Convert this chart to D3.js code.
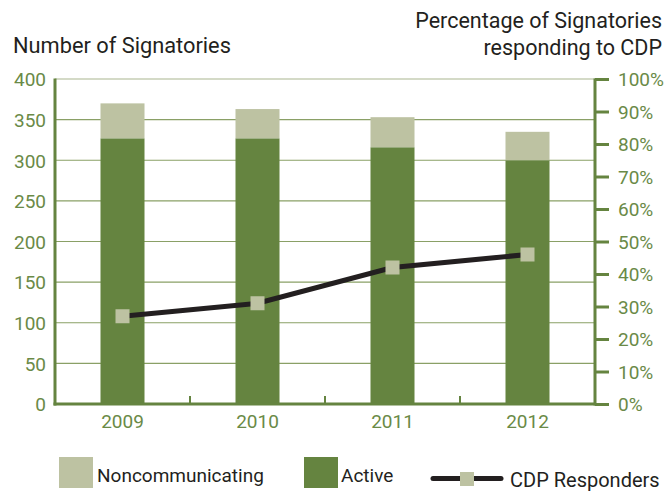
<!DOCTYPE html>
<html>
<head>
<meta charset="utf-8">
<script src="https://cdn.jsdelivr.net/npm/d3@7"></script>
<style>
  html, body { margin: 0; padding: 0; background: #fff; }
  svg { display: block; }
  text { font-family: Roboto, "Noto Sans", sans-serif; }
</style>
</head>
<body>
<svg id="chart" width="668" height="491"></svg>
<script>
// Signatories per year, split by status, plus share responding to CDP
const years = ["2009", "2010", "2011", "2012"];
const active = [327, 327, 316, 300];
const noncommunicating = [43, 36, 37, 35];
const cdpResponders = [27, 31, 42, 46]; // percent
const leftTicks = [0, 50, 100, 150, 200, 250, 300, 350, 400];
const rightTicks = [0, 10, 20, 30, 40, 50, 60, 70, 80, 90, 100];

const GREEN = "#658440";
const LIGHT = "#bdc2a2";
const LABEL = "#6a8a47";
const INK = "#231f20";

const svg = d3.select("#chart");
const plotLeft = 55, plotRight = 595, plotTop = 79, plotBottom = 404;

const x = d3.scaleBand().domain(years).range([plotLeft, plotRight])
  .paddingInner(0.674).paddingOuter(0.337);
const y = d3.scaleLinear().domain([0, 400]).range([plotBottom, plotTop]);
const yPct = d3.scaleLinear().domain([0, 100]).range([plotBottom, plotTop]);

// horizontal gridlines
svg.append("g").selectAll("line")
  .data(leftTicks.filter(d => d > 0))
  .join("line")
  .attr("x1", plotLeft).attr("x2", plotRight)
  .attr("y1", d => y(d)).attr("y2", d => y(d))
  .attr("stroke", d => d === 400 ? "#a9b68f" : "#8aa066")
  .attr("stroke-width", 1.2);

// stacked bars
const stackData = years.map((yr, i) => ({ year: yr, active: active[i], noncommunicating: noncommunicating[i] }));
const stack = d3.stack().keys(["active", "noncommunicating"])(stackData);
const colors = { active: GREEN, noncommunicating: LIGHT };
svg.append("g").selectAll("g")
  .data(stack)
  .join("g")
  .attr("fill", s => colors[s.key])
  .selectAll("rect")
  .data(s => s)
  .join("rect")
  .attr("x", d => x(d.data.year))
  .attr("width", x.bandwidth())
  .attr("y", d => y(d[1]))
  .attr("height", d => y(d[0]) - y(d[1]));

// left axis
const leftAxis = d3.axisLeft(y).tickValues(leftTicks).tickSize(0).tickPadding(9);
const gl = svg.append("g").attr("transform", `translate(${plotLeft},0)`).call(leftAxis);
gl.select(".domain").remove();
gl.selectAll("text").attr("fill", LABEL).attr("font-size", 19).attr("dy", "0.36em");
svg.append("line").attr("x1", plotLeft).attr("x2", plotLeft).attr("y1", plotTop - 0.5).attr("y2", plotBottom + 1.5)
  .attr("stroke", GREEN).attr("stroke-width", 3);

// right axis
const rightAxis = d3.axisRight(yPct).tickValues(rightTicks).tickSize(14).tickPadding(9)
  .tickFormat(d => d + "%");
const gr = svg.append("g").attr("transform", `translate(${plotRight},0)`).call(rightAxis);
gr.select(".domain").remove();
gr.selectAll("line").attr("stroke", GREEN).attr("stroke-width", 3);
gr.selectAll("text").attr("fill", LABEL).attr("font-size", 19).attr("dy", "0.36em");
svg.append("line").attr("x1", plotRight).attr("x2", plotRight).attr("y1", plotTop - 0.5).attr("y2", plotBottom + 1.5)
  .attr("stroke", GREEN).attr("stroke-width", 3);

// bottom axis with small ticks between categories
svg.append("line").attr("x1", plotLeft - 1.5).attr("x2", plotRight).attr("y1", plotBottom).attr("y2", plotBottom)
  .attr("stroke", GREEN).attr("stroke-width", 3);
const gap = x.step() - x.bandwidth();
svg.append("g").selectAll("line")
  .data(years.slice(0, -1))
  .join("line")
  .attr("x1", d => x(d) + x.bandwidth() + gap / 2)
  .attr("x2", d => x(d) + x.bandwidth() + gap / 2)
  .attr("y1", plotBottom).attr("y2", plotBottom - 8)
  .attr("stroke", GREEN).attr("stroke-width", 2);
svg.append("g").selectAll("text")
  .data(years)
  .join("text")
  .attr("x", d => x(d) + x.bandwidth() / 2)
  .attr("y", 428)
  .attr("text-anchor", "middle")
  .attr("fill", LABEL).attr("font-size", 19)
  .text(d => d);

// CDP responders line
const pts = years.map((yr, i) => [x(yr) + x.bandwidth() / 2, yPct(cdpResponders[i])]);
svg.append("path")
  .attr("d", d3.line()(pts))
  .attr("fill", "none").attr("stroke", INK).attr("stroke-width", 5);
svg.append("g").selectAll("rect")
  .data(pts)
  .join("rect")
  .attr("x", d => d[0] - 7).attr("y", d => d[1] - 7)
  .attr("width", 14).attr("height", 14)
  .attr("fill", LIGHT);

// titles
svg.append("text").attr("x", 13).attr("y", 53).attr("fill", INK).attr("font-size", 21.8)
  .text("Number of Signatories");
svg.append("text").attr("x", 662).attr("y", 28).attr("text-anchor", "end").attr("fill", INK).attr("font-size", 21.5)
  .text("Percentage of Signatories");
svg.append("text").attr("x", 662).attr("y", 55).attr("text-anchor", "end").attr("fill", INK).attr("font-size", 21.5)
  .text("responding to CDP");

// legend
const legend = svg.append("g");
legend.append("rect").attr("x", 59).attr("y", 457).attr("width", 34).attr("height", 31).attr("fill", LIGHT);
legend.append("text").attr("x", 97).attr("y", 482).attr("fill", INK).attr("font-size", 19).text("Noncommunicating");
legend.append("rect").attr("x", 304).attr("y", 457).attr("width", 34).attr("height", 31).attr("fill", GREEN);
legend.append("text").attr("x", 341).attr("y", 482).attr("fill", INK).attr("font-size", 19).text("Active");
legend.append("line").attr("x1", 433).attr("x2", 501).attr("y1", 478.5).attr("y2", 478.5)
  .attr("stroke", INK).attr("stroke-width", 5).attr("stroke-linecap", "round");
legend.append("rect").attr("x", 460).attr("y", 472).attr("width", 14).attr("height", 14).attr("fill", LIGHT);
legend.append("text").attr("x", 510).attr("y", 487).attr("fill", INK).attr("font-size", 20).text("CDP Responders");
</script>
</body>
</html>
